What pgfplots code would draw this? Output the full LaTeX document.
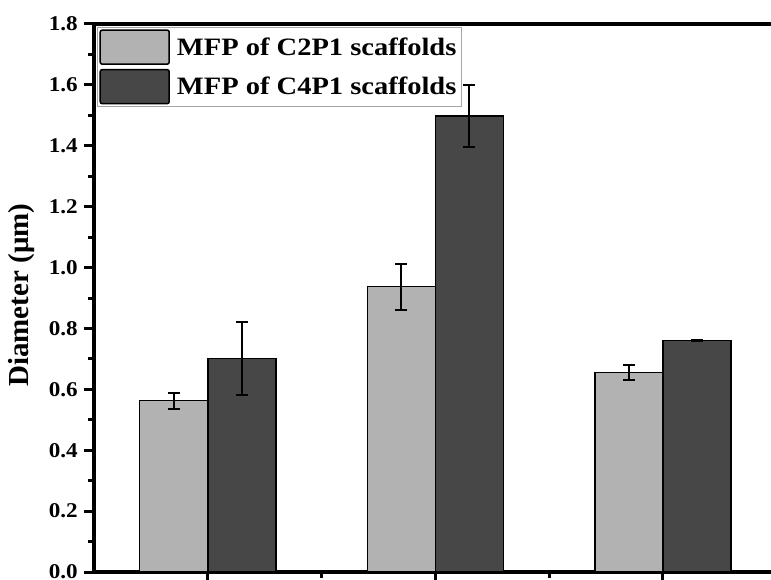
\documentclass[border=0pt]{standalone}
\usepackage{fontspec}
\setmainfont{Liberation Serif}
\newfontfamily\tickfont[FakeStretch=1.1]{Liberation Serif}
\newfontfamily\legfont[FakeStretch=1.14]{Liberation Serif}
\usepackage{pgfplots}
\pgfplotsset{compat=1.18}
\definecolor{lightbar}{HTML}{B2B2B2}
\definecolor{darkbar}{HTML}{474747}
\begin{document}
\begin{tikzpicture}
\begin{axis}[
  at={(0pt,0pt)}, anchor=south west,
  scale only axis, width=682.5pt, height=548pt,
  xmin=0.5, xmax=3.5, ymin=0, ymax=1.8,
  ybar=0pt, bar width=68pt,
  axis line style={line width=3.5pt, black},
  xtick={1,2,3}, minor xtick={1.5,2.5}, xticklabels={},
  ytick={0,0.2,0.4,0.6,0.8,1.0,1.2,1.4,1.6,1.8},
  yticklabels={0.0,0.2,0.4,0.6,0.8,1.0,1.2,1.4,1.6,1.8},
  minor ytick={0.1,0.3,0.5,0.7,0.9,1.1,1.3,1.5,1.7},
  tick align=outside, xtick pos=bottom, ytick pos=left,
  major tick length=10pt, minor tick length=6pt,
  major tick style={line width=3pt, black},
  minor tick style={line width=3pt, black},
  yticklabel style={font=\fontsize{21}{22}\tickfont\bfseries\selectfont, inner sep=2pt, xshift=-4pt},
  ylabel={Diameter (μm)},
  ylabel style={font=\bfseries\fontsize{29}{30}\selectfont, at={(axis description cs:-0.1055,0.505)}, anchor=center},
  legend style={at={(axis description cs:0.0045,0.9945)}, anchor=north west,
    draw=gray!70, line width=0.8pt, inner xsep=2pt, inner ysep=2pt,
    font=\legfont\bfseries\fontsize{25}{27}\selectfont,
    row sep=4pt, nodes={inner sep=3pt}},
  legend cell align=left,
  error bars/y dir=both, error bars/y explicit,
  error bars/error bar style={line width=2pt, black},
  error bars/error mark options={rotate=90, mark size=6pt, line width=2pt, black},
]
\addplot[fill=lightbar, draw=black, line width=1.5pt,
  legend image code/.code={\draw[fill=lightbar, draw=black, line width=1.5pt, rounded corners=2pt] (0pt,-17pt) rectangle (69pt,17pt); \path (73pt,0pt);}]
  coordinates {(1,0.563) +- (0,0.026) (2,0.937) +- (0,0.076) (3,0.655) +- (0,0.025)};
\addplot[fill=darkbar, draw=black, line width=1.5pt,
  legend image code/.code={\draw[fill=darkbar, draw=black, line width=1.5pt, rounded corners=2pt] (0pt,-17pt) rectangle (69pt,17pt); \path (73pt,0pt);}]
  coordinates {(1,0.702) +- (0,0.12) (2,1.497) +- (0,0.101) (3,0.760) +- (0,0.002)};
\legend{MFP of C2P1 scaffolds, MFP of C4P1 scaffolds}
\end{axis}
\pgfresetboundingbox
\path[use as bounding box] (-94pt,-7pt) rectangle (677pt,572pt);
\end{tikzpicture}
\end{document}
